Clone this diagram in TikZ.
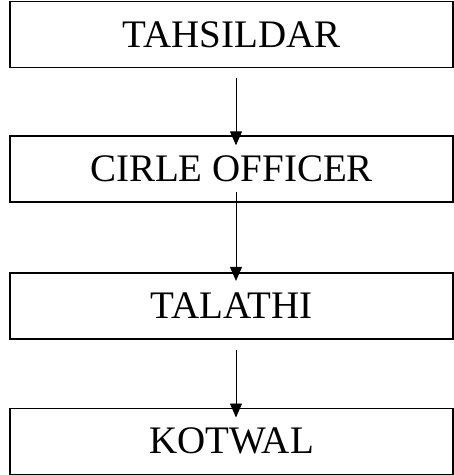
\documentclass[tikz,border=0pt]{standalone}
\usepackage{fontspec}
\setmainfont{Liberation Serif}
\usetikzlibrary{positioning,arrows.meta}

\begin{document}
\begin{tikzpicture}[rankbox/.style={rectangle, draw=black, line width=1.6pt, minimum width=443pt, minimum height=66pt, inner sep=0pt, font=\fontsize{39}{45}\selectfont},
	rankarrow/.style={line width=0.9pt, -{Triangle[width=12pt,length=14pt]}}]
	\useasboundingbox (0,0) rectangle (454pt,-475pt);
	\node[rankbox] (tahsildar) at (231.5pt,-34.5pt) {TAHSILDAR};
	\node[rankbox] (officer) [below = 67pt of tahsildar] {CIRLE OFFICER};
	\node[rankbox] (talathi) [below = 69pt of officer] {TALATHI};
	\node[rankbox] (kotwal) [below = 68pt of talathi] {KOTWAL};
	\draw[rankarrow] ([xshift=4.5pt,yshift=-10pt]tahsildar.south) -- ([xshift=4.5pt,yshift=-10pt]officer.north);
	\draw[rankarrow] ([xshift=4.5pt,yshift=11pt]officer.south) -- ([xshift=4.5pt,yshift=-9pt]talathi.north);
	\draw[rankarrow] ([xshift=4.5pt,yshift=-10pt]talathi.south) -- ([xshift=4.5pt,yshift=-10pt]kotwal.north);
\end{tikzpicture}
\end{document}
